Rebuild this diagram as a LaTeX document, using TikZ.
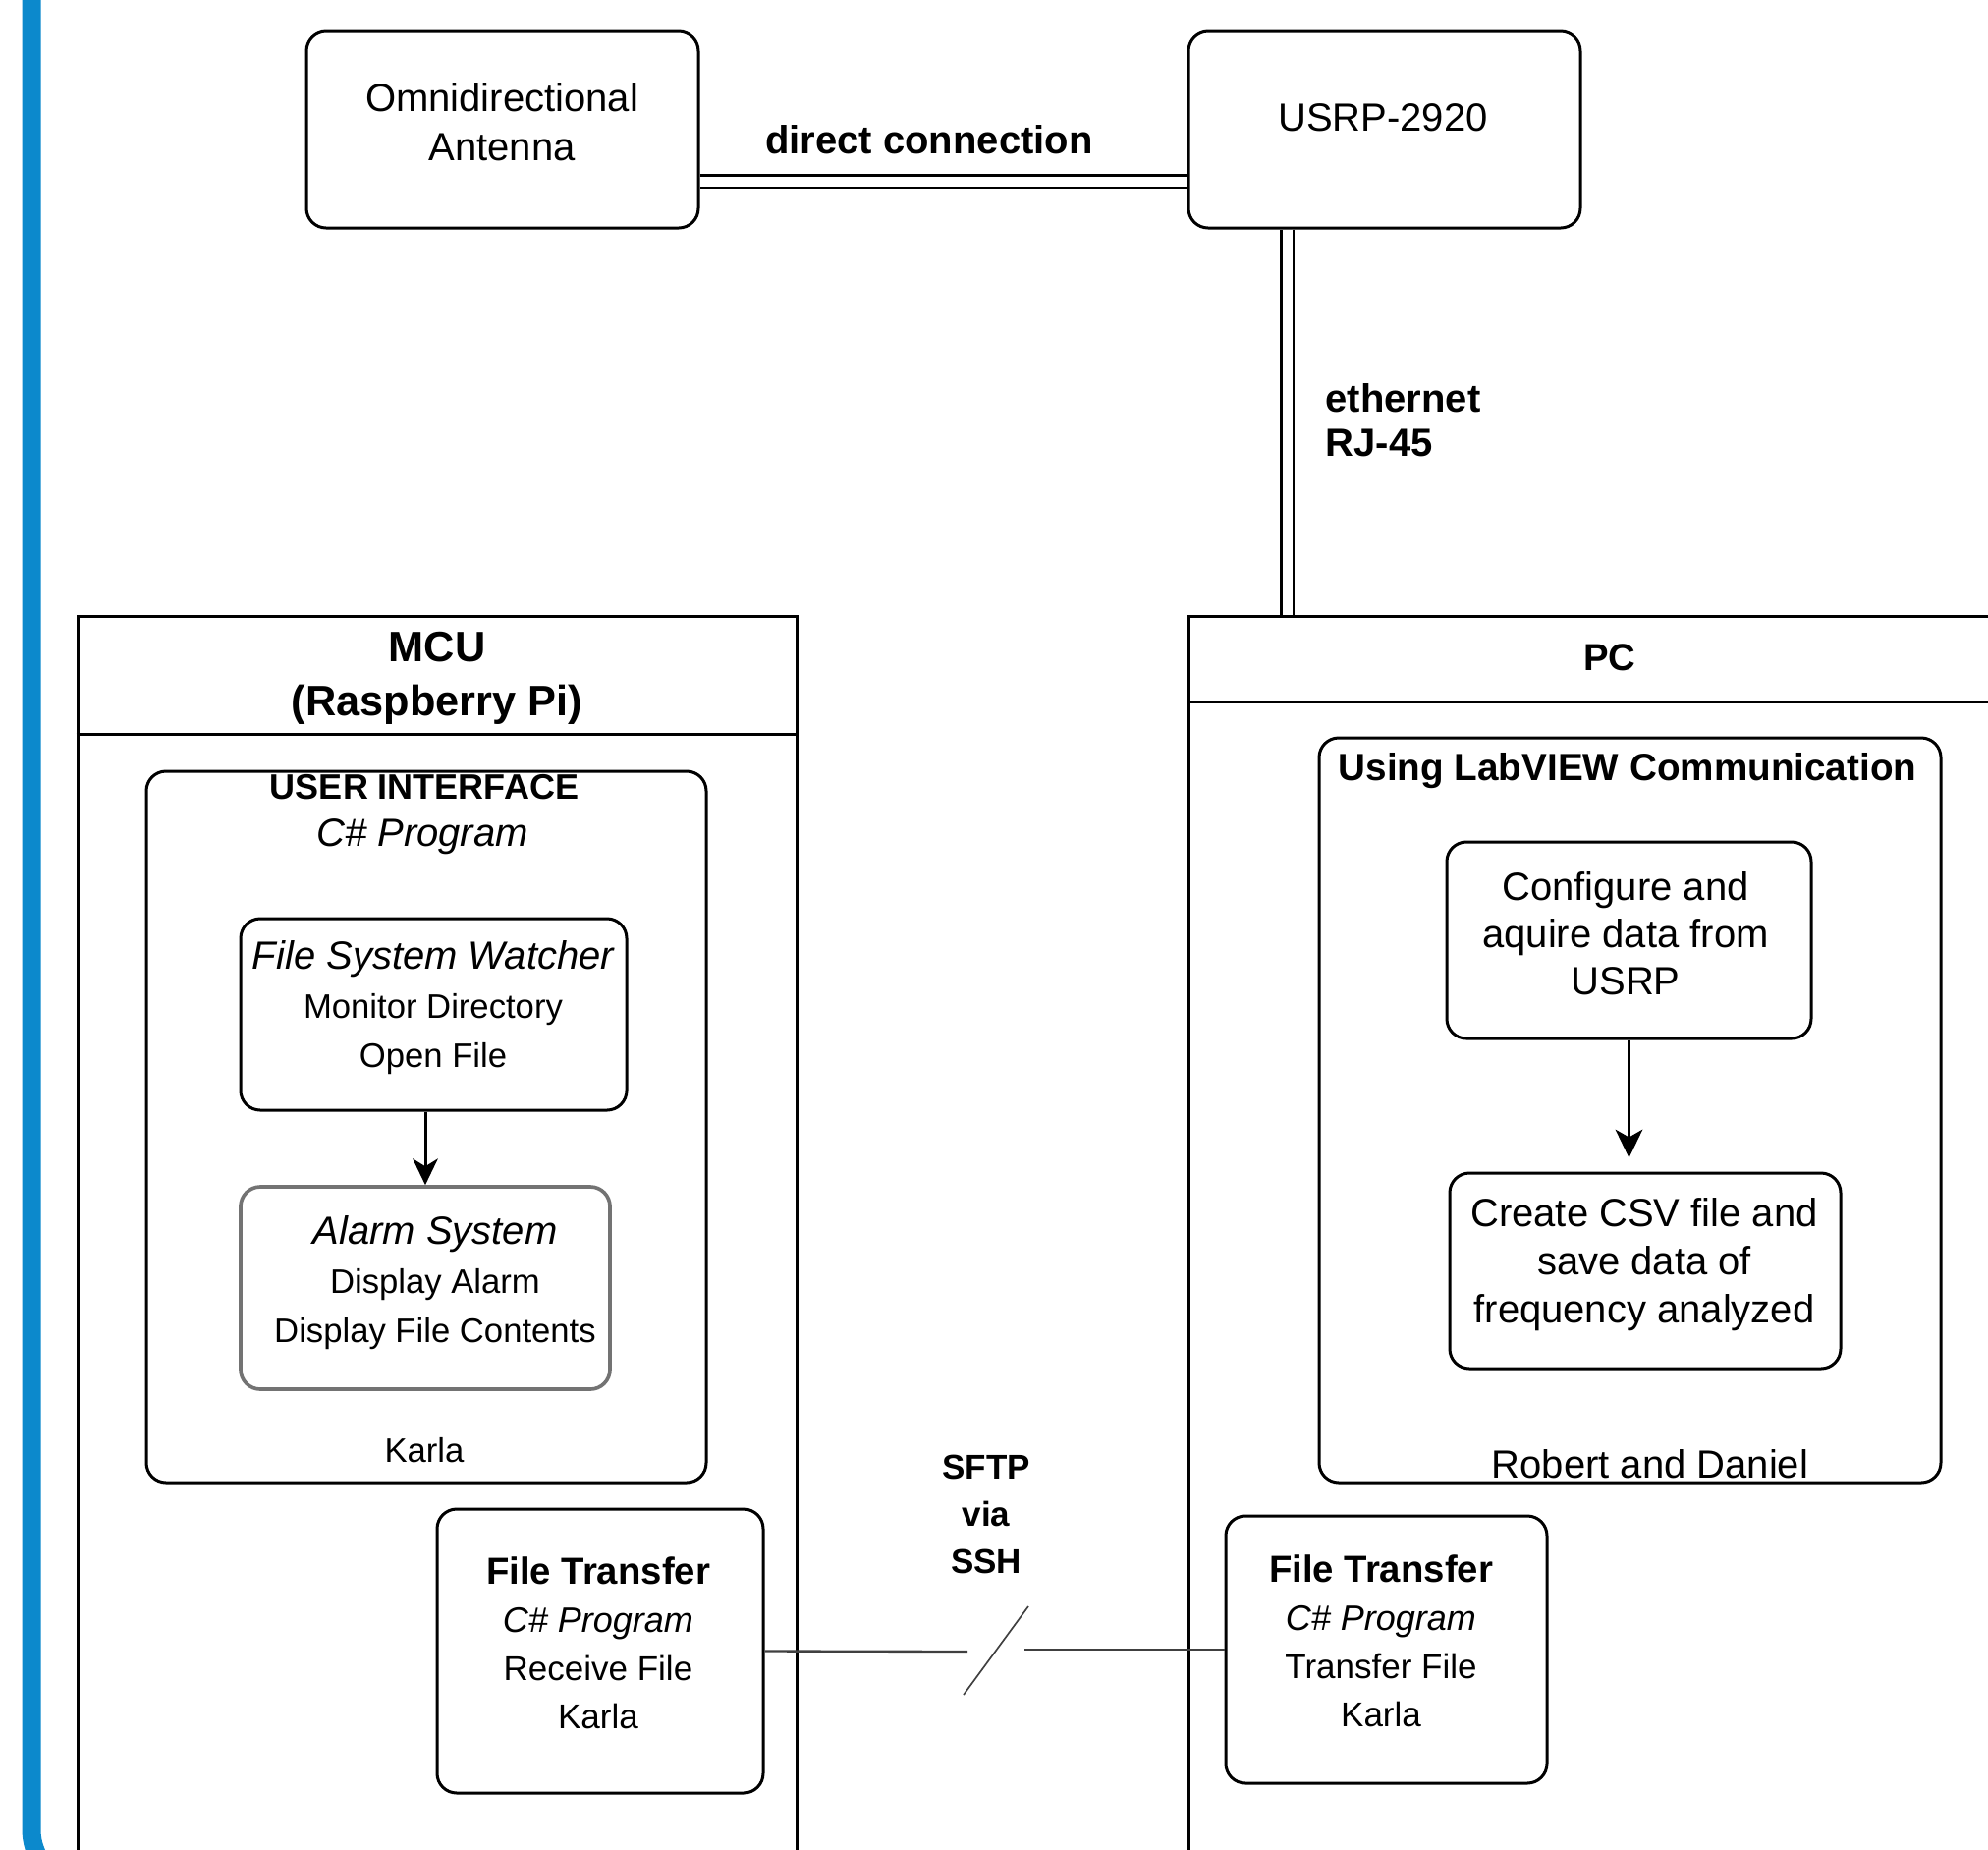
\documentclass[tikz,border=0pt]{standalone}
\usepackage{fontspec}
\setmainfont{Liberation Sans}
\usepackage{tikz}
\usepackage{xcolor}
\usetikzlibrary{shapes,arrows}
\definecolor{barblue}{RGB}{12,137,204}
\tikzset{
  rbox/.style={draw, rounded corners=6pt, line width=0.9pt, inner sep=0pt},
  lane/.style={draw, line width=0.9pt, inner sep=0pt},
  lbl/.style={inner sep=0pt, align=center, font=\fontsize{12}{15}\selectfont},
  dlink/.style={double, double distance=3pt, line width=0.8pt},
  link/.style={draw=black!75, line width=0.7pt}
}

\begin{document}
\begin{tikzpicture}[x=0.3pt,y=0.3pt,yscale=-1]
\useasboundingbox (0,0) rectangle (2024,1882);

%Shape: blue margin bar
\draw [barblue, line width=5.7pt, rounded corners=18pt] (32,-30) -- (32,1922) -- (300,1922);

%Shape: Rectangle (MCU lane)
\node [lane, minimum width=219.6pt, minimum height=381.9pt] (mcu) at (445,1263.5) {};
\coordinate (mcuhd) at (445,747);
\draw [line width=0.9pt] (mcu.west |- mcuhd) -- (mcu.east |- mcuhd);
%Shape: Rectangle (PC lane)
\node [lane, minimum width=257.4pt, minimum height=381.9pt] (pc) at (1639,1263.5) {};
\coordinate (pchd) at (1639,714);
\draw [line width=0.9pt] (pc.west |- pchd) -- (pc.east |- pchd);

%Shape: Rounded Rectangle
\node [rbox, minimum width=119.7pt, minimum height=60pt] (antenna) at (511.5,132) {};
%Shape: Rounded Rectangle
\node [rbox, minimum width=119.7pt, minimum height=60pt] (usrp) at (1409.5,132) {};
%Shape: Rounded Rectangle
\node [rbox, minimum width=171pt, minimum height=217.2pt] (ui) at (434,1147) {};
%Shape: Rounded Rectangle
\node [rbox, minimum width=117.9pt, minimum height=58.5pt] (fsw) at (441.5,1032.5) {};
%Shape: Rounded Rectangle
\node [rbox, draw=black!55, line width=1.1pt, minimum width=112.8pt, minimum height=61.8pt] (alarm) at (433,1311) {};
%Shape: Rounded Rectangle
\node [rbox, minimum width=99.6pt, minimum height=86.7pt] (ftmcu) at (611,1680.5) {};
%Shape: Rounded Rectangle
\node [rbox, minimum width=98.1pt, minimum height=81.6pt] (ftpc) at (1411.5,1679) {};
%Shape: Rounded Rectangle
\node [rbox, minimum width=189.9pt, minimum height=227.4pt] (labview) at (1659.5,1130) {};
%Shape: Rounded Rectangle
\node [rbox, minimum width=111.3pt, minimum height=60pt] (config) at (1658.5,957) {};
%Shape: Rounded Rectangle
\node [rbox, minimum width=119.4pt, minimum height=59.7pt] (csvsave) at (1675,1293.5) {};

%Straight Lines (double)
\draw [dlink] ([yshift=15.75pt]antenna.east) -- ([yshift=15.75pt]usrp.west);
\draw [dlink] ([xshift=-29.7pt]usrp.south) -- ([xshift=-29.7pt]usrp.south |- pc.north);

%Straight Lines
\draw [line width=0.9pt] (alarm.north |- fsw.south) -- ([yshift=-4pt]alarm.north);
\draw [shift={(alarm.north)}, rotate=270] [fill=black] [line width=0.08] [draw opacity=0] (27,-13) -- (0,0) -- (27,13) -- (19,0) -- cycle;

\coordinate (csvtop) at (config.south |- csvsave.north);
\coordinate (csvtip) at ([yshift=-4.2pt]csvtop);
\draw [line width=0.9pt] (config.south) -- ([yshift=-4pt]csvtip);
\draw [shift={(csvtip)}, rotate=270] [fill=black] [line width=0.08] [draw opacity=0] (29,-14) -- (0,0) -- (29,14) -- (21,0) -- cycle;

%Straight Lines (SFTP break)
\coordinate (sftpL) at (985,1681);
\coordinate (sftpR) at (1043,1679);
\coordinate (slashA) at (981,1725);
\coordinate (slashB) at (1047,1635);
\draw [link] (ftmcu.east) -- (sftpL);
\draw [link] (sftpR) -- (ftpc.west);
\draw [link, line width=0.5pt] (slashA) -- (slashB);

% Text Node
\node [lbl] (antennatxt) at (511,124) {Omnidirectional\\Antenna};
% Text Node
\node [lbl] (usrptxt) at (1408,120) {USRP-2920};
% Text Node
\node [lbl, font=\fontsize{12}{15}\selectfont\bfseries] (directtxt) at (946,142) {direct connection};
% Text Node
\node [lbl, align=left, anchor=west, font=\fontsize{12}{13.5}\selectfont\bfseries] (ethtxt) at (1349,428) {ethernet\\RJ-45};
% Text Node
\node [lbl, font=\fontsize{13}{16.5}\selectfont\bfseries] (mcutxt) at (445,690) {MCU\\(Raspberry Pi)};
% Text Node
\node [lbl, font=\fontsize{11.5}{14}\selectfont\bfseries] (pctxt) at (1639,669) {PC};
% Text Node
\node [lbl, font=\fontsize{10.8}{13}\selectfont\bfseries] (uititle) at (432,801) {USER INTERFACE};
% Text Node
\node [lbl, font=\fontsize{12}{15}\selectfont\itshape] (uisub) at (430,852) {C\# Program};
% Text Node
\node [lbl, font=\fontsize{10.4}{15}\selectfont] (fswtxt) at (441,1026) {{\fontsize{12}{15}\selectfont\itshape File System Watcher}\\Monitor Directory\\Open File};
% Text Node
\node [lbl, font=\fontsize{10.4}{15}\selectfont] (alarmtxt) at (443,1306) {{\fontsize{12}{15}\selectfont\itshape Alarm System}\\Display Alarm\\Display File Contents};
% Text Node
\node [lbl, font=\fontsize{10.4}{13}\selectfont] (uikarla) at (432,1476) {Karla};
% Text Node
\node [lbl, font=\fontsize{10.5}{14.7}\selectfont] (ftmcutxt) at (609,1672) {{\fontsize{11.5}{14.7}\selectfont\bfseries File Transfer}\\{\fontsize{10.8}{14.7}\selectfont\itshape C\# Program}\\Receive File\\Karla};
% Text Node
\node [lbl, font=\fontsize{10.5}{14.7}\selectfont] (ftpctxt) at (1406,1670) {{\fontsize{11.5}{14.7}\selectfont\bfseries File Transfer}\\{\fontsize{10.8}{14.7}\selectfont\itshape C\# Program}\\Transfer File\\Karla};
% Text Node
\node [lbl, font=\fontsize{10.5}{14.4}\selectfont\bfseries] (sftptxt) at (1004,1541) {SFTP\\via\\SSH};
% Text Node
\node [lbl, font=\fontsize{11.6}{14}\selectfont\bfseries] (labtxt) at (1657,785) {Using LabVIEW Communication};
% Text Node
\node [lbl, font=\fontsize{12}{14.4}\selectfont] (configtxt) at (1655,950) {Configure and\\aquire data from\\USRP};
% Text Node
\node [lbl, font=\fontsize{12}{14.7}\selectfont] (csvtxt) at (1674,1287) {Create CSV file and\\save data of\\frequency analyzed};
% Text Node
\node [lbl] (robtxt) at (1680,1490) {Robert and Daniel};

\end{tikzpicture}
\end{document}
